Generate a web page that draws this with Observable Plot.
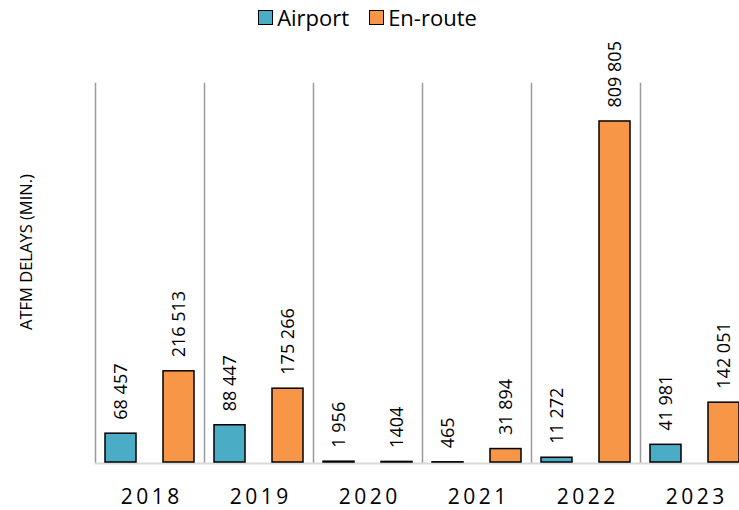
<!DOCTYPE html>
<html>
<head>
<meta charset="utf-8">
<script src="https://cdn.jsdelivr.net/npm/d3@7"></script>
<script src="https://cdn.jsdelivr.net/npm/@observablehq/plot@0.6"></script>
<style>
  html, body { margin: 0; padding: 0; background: #fff; }
  #wrap { position: relative; width: 739px; height: 510px; overflow: hidden; font-family: "Open Sans", sans-serif; }
  #legend { height: 34px; display: flex; justify-content: center; align-items: center; font-size: 22px; color: #000; padding-right: 4px; }
  #legend .item { display: flex; align-items: center; margin: 0 10px; }
  #legend .sw { width: 13px; height: 13px; border: 1.5px solid #000; margin-right: 4px; }
  #ylabel { position: absolute; left: 25px; top: 252px; transform: translate(-50%, -50%) rotate(-90deg); white-space: nowrap; font-size: 16.5px; color: #000; }
  svg [aria-label="fx-axis tick label"] text { font-size: 21px; letter-spacing: 3.5px; }
</style>
</head>
<body>
<div id="wrap">
  <div id="legend"></div>
  <div id="ylabel">ATFM DELAYS (MIN.)</div>
  <div id="chart"></div>
</div>
<script>
const years = ["2018", "2019", "2020", "2021", "2022", "2023"];
const seriesNames = ["Airport", "En-route"];
const seriesColors = ["#4BACC6", "#F79646"];
const airport = [68457, 88447, 1956, 465, 11272, 41981];
const enroute = [216513, 175266, 1404, 31894, 809805, 142051];
const airportLabels = ["68 457", "88 447", "1 956", "465", "11 272", "41 981"];
const enrouteLabels = ["216 513", "175 266", "1404", "31 894", "809 805", "142 051"];

const data = [];
years.forEach((y, i) => {
  data.push({year: y, series: seriesNames[0], value: airport[i], label: airportLabels[i]});
  data.push({year: y, series: seriesNames[1], value: enroute[i], label: enrouteLabels[i]});
});

// legend
const legend = document.getElementById("legend");
seriesNames.forEach((s, i) => {
  const item = document.createElement("div");
  item.className = "item";
  const sw = document.createElement("div");
  sw.className = "sw";
  sw.style.background = seriesColors[i];
  const t = document.createElement("span");
  t.textContent = s;
  item.appendChild(sw);
  item.appendChild(t);
  legend.appendChild(item);
});

const chart = Plot.plot({
  width: 739,
  height: 476,
  marginLeft: 93,
  marginRight: 0,
  marginTop: 49,
  marginBottom: 48,
  style: {fontFamily: "Open Sans, sans-serif", background: "transparent", overflow: "visible"},
  fx: {domain: years, range: [93, 751], padding: 0, label: null, axis: null},
  x: {domain: seriesNames, paddingInner: 0.466, paddingOuter: 0.172, axis: null},
  y: {domain: [0, 900000], axis: null},
  color: {domain: seriesNames, range: seriesColors},
  marks: [
    Plot.frame({anchor: "left", stroke: "#9a9a9a", strokeWidth: 1.5}),
    Plot.ruleY([0], {stroke: "#d9d9d9", strokeWidth: 2, dy: 1}),
    Plot.barY(data, {fx: "year", x: "series", y: "value", fill: "series", stroke: "#000", strokeWidth: 1.5}),
    Plot.text(data, {fx: "year", x: "series", y: "value", text: "label", rotate: -90, textAnchor: "start", dy: -14, fontSize: 18, fill: "#000"}),
    Plot.axisFx({anchor: "bottom", tickSize: 0, tickPadding: 27, label: null, dx: 1.75})
  ]
});
document.getElementById("chart").appendChild(chart);
</script>
</body>
</html>
